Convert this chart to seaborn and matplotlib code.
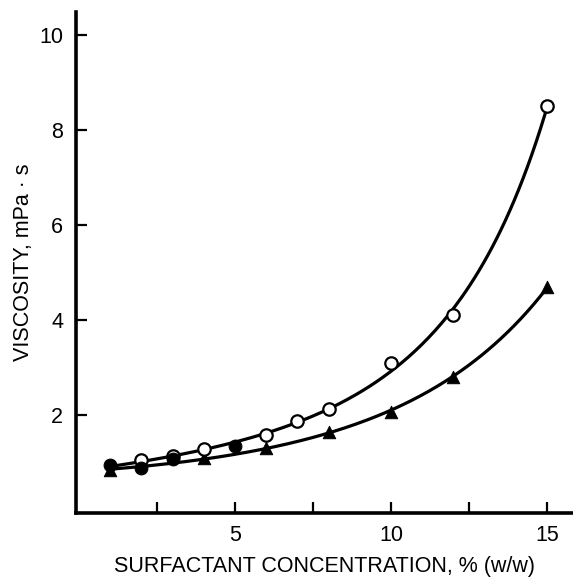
import numpy as np
import pandas as pd
import matplotlib
matplotlib.use("Agg")
import matplotlib.pyplot as plt
import seaborn as sns

# Viscosity (mPa·s) versus surfactant concentration (% w/w)
open_conc = [2, 3, 4, 6, 7, 8, 10, 12, 15]
open_visc = [1.06, 1.13, 1.29, 1.58, 1.87, 2.12, 3.10, 4.10, 8.50]

tri_conc = [1, 4, 6, 8, 10, 12, 15]
tri_visc = [0.85, 1.10, 1.30, 1.65, 2.07, 2.80, 4.70]

dot_conc = [1, 2, 3, 5]
dot_visc = [0.95, 0.88, 1.07, 1.34]

x_ticks = [2.5, 5, 7.5, 10, 12.5, 15]
x_ticklabels = ["", "5", "", "10", "", "15"]
y_ticks = [2, 4, 6, 8, 10]

sns.set_theme(style="ticks")
plt.rcParams["font.family"] = ["Liberation Sans", "DejaVu Sans"]
plt.rcParams["text.color"] = "black"
plt.rcParams["axes.labelcolor"] = "black"

fig = plt.figure(figsize=(5.73, 5.78), dpi=100)
ax = fig.add_axes([0.132, 0.1125, 0.868, 0.8665])


def fitted_curve(xs, ys, deg, x0, x1, power):
    # least-squares fit of log(viscosity), weighted toward the larger readings
    coef = np.polyfit(xs, np.log(ys), deg, w=np.asarray(ys) ** power)
    xx = np.linspace(x0, x1, 200)
    return pd.DataFrame({"c": xx, "v": np.exp(np.polyval(coef, xx))})


upper = fitted_curve(open_conc + [1, 5], open_visc + [0.92, 1.34], 3, 1, 15, 0.8)
lower = fitted_curve(tri_conc + [2, 3], tri_visc + [0.90, 1.0], 2, 1, 15, 0.5)

sns.lineplot(data=upper, x="c", y="v", ax=ax, color="black", lw=2.3)
sns.lineplot(data=lower, x="c", y="v", ax=ax, color="black", lw=2.3)

sns.scatterplot(x=open_conc, y=open_visc, ax=ax, marker="o", s=80,
                facecolor="white", edgecolor="black", linewidth=1.6, zorder=5)
sns.scatterplot(x=tri_conc, y=tri_visc, ax=ax, marker="^", s=80,
                color="black", edgecolor="black", zorder=4)
sns.scatterplot(x=dot_conc, y=dot_visc, ax=ax, marker="o", s=85,
                color="black", edgecolor="black", zorder=6)

ax.set_xlim(-0.11, 15.83)
ax.set_ylim(-0.06, 10.48)
ax.set_xticks(x_ticks)
ax.set_xticklabels(x_ticklabels)
ax.set_yticks(y_ticks)
ax.tick_params(direction="in", length=8, width=1.6, labelsize=15.5,
               colors="black")
ax.tick_params(axis="y", pad=9)
ax.tick_params(axis="x", pad=9)
for side in ("top", "right"):
    ax.spines[side].set_visible(False)
for side in ("left", "bottom"):
    ax.spines[side].set_linewidth(2.6)
    ax.spines[side].set_color("black")

ax.set_xlabel("SURFACTANT CONCENTRATION, % (w/w)", fontsize=15.5, labelpad=7)
ax.set_ylabel("VISCOSITY, mPa · s", fontsize=15.5, labelpad=4)

fig.savefig("out.png", dpi=100)
